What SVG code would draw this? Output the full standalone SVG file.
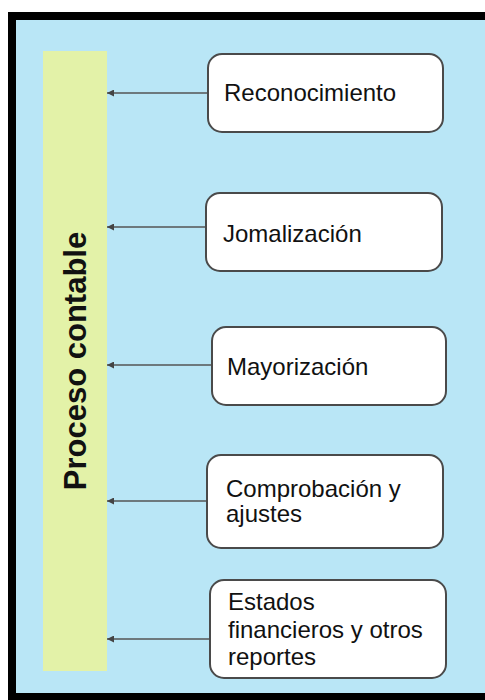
<svg xmlns="http://www.w3.org/2000/svg" width="485" height="700" viewBox="0 0 485 700">
<style>
.box{fill:#ffffff;stroke:#4a4a4a;stroke-width:2}
.t{font-family:"Liberation Sans",Arial,sans-serif;font-size:24px;fill:#111111}
.c{stroke:#555555;stroke-width:1.5;fill:none}
</style>
<defs>
<marker id="ah" viewBox="0 0 10 10" refX="10" refY="5" markerWidth="7" markerHeight="7" orient="auto" markerUnits="userSpaceOnUse">
<path d="M0,0 L10,5 L0,10 z" fill="#444444"/>
</marker>
</defs>
<rect x="8" y="12" width="485" height="700" fill="#000000"/>
<rect x="16" y="20" width="477" height="673" fill="#b9e6f6"/>
<g id="proceso">
<rect x="43" y="51" width="64" height="620" fill="#e3f2a8"/>
<text transform="translate(86,361) rotate(-90)" text-anchor="middle" font-family="'Liberation Sans',Arial,sans-serif" font-weight="bold" font-size="31" fill="#111111">Proceso contable</text>
</g>
<g id="connectors">
<line class="c" x1="208" y1="93" x2="107" y2="93" marker-end="url(#ah)"/>
<line class="c" x1="206" y1="227" x2="107" y2="227" marker-end="url(#ah)"/>
<line class="c" x1="212" y1="365" x2="107" y2="365" marker-end="url(#ah)"/>
<line class="c" x1="207" y1="501" x2="107" y2="501" marker-end="url(#ah)"/>
<line class="c" x1="210" y1="639" x2="107" y2="639" marker-end="url(#ah)"/>
</g>
<g id="reconocimiento">
<rect class="box" x="208" y="54" width="235" height="78" rx="14"/>
<text class="t" x="224" y="101">Reconocimiento</text>
</g>
<g id="jornalizacion">
<rect class="box" x="206" y="193" width="236" height="78" rx="14"/>
<text class="t" x="223" y="242">Jomalización</text>
</g>
<g id="mayorizacion">
<rect class="box" x="212" y="327" width="234" height="78" rx="14"/>
<text class="t" x="227" y="375">Mayorización</text>
</g>
<g id="comprobacion">
<rect class="box" x="207" y="455" width="236" height="93" rx="14"/>
<text class="t" x="226" y="497">Comprobación y</text>
<text class="t" x="226" y="522">ajustes</text>
</g>
<g id="estados">
<rect class="box" x="210" y="580" width="236" height="98" rx="14"/>
<text class="t" x="228" y="610">Estados</text>
<text class="t" x="228" y="638">financieros y otros</text>
<text class="t" x="228" y="665">reportes</text>
</g>
</svg>
